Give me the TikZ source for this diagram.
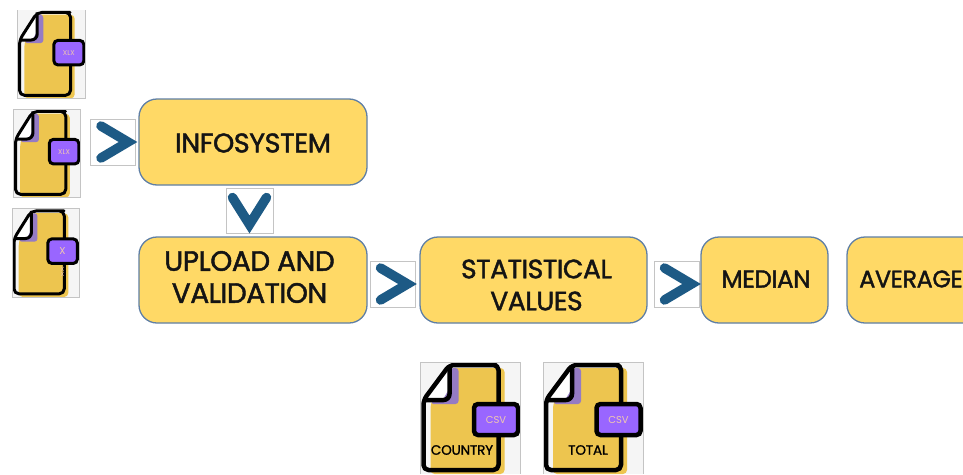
\documentclass[tikz,border=0pt]{standalone}
\usepackage{fontspec}
\setmainfont{Poppins}
\newfontfamily\boxfont[FakeBold=1.6,LetterSpace=-1.5]{Poppins}
\newfontfamily\labelfont[FakeBold=1.2,LetterSpace=-1]{Poppins}
\definecolor{boxfill}{HTML}{FFD966}
\definecolor{boxline}{HTML}{5F7FA5}
\definecolor{chev}{HTML}{1D5A85}
\definecolor{docfill}{HTML}{EDC54F}
\definecolor{docshade}{HTML}{957BC4}
\definecolor{badge}{HTML}{9966FF}
\definecolor{framebg}{HTML}{F5F5F5}
\definecolor{frameline}{HTML}{C4C4C4}
\definecolor{badgetext}{HTML}{F0C8B0}
\tikzset{
  stepbox/.style={draw=boxline,line width=1.3pt,fill=boxfill,rounded corners=18pt,inner sep=0pt,minimum height=86pt},
  steptext/.style={inner sep=0pt,align=center,text=black!92},
  chevframe/.style={draw=frameline,line width=.8pt,fill=white,inner sep=0pt},
  chevline/.style={draw=chev,line width=9.5pt,line cap=round,line join=miter},
  iconframe/.style={draw=frameline,line width=.8pt},
  badgebox/.style={draw=black,fill=badge,rounded corners=4pt,inner sep=0pt},
}
% #1 name, #2 x, #3 y, #4 xscale, #5 yscale, #6 line width, #7 badge font size, #8 badge text, #9 badge centre y
\newcommand{\fileicon}[9]{%
  \begin{scope}[shift={(#2,#3)},xscale=#4,yscale=#5]
    \fill[framebg] (0,0) rectangle (100,112);
    \fill[docfill,rounded corners=4pt] (30,6) -- (84,6) -- (84,112) -- (10,112) -- (10,42) -- cycle;
    \fill[docshade,rounded corners=3pt] (10,42) -- (30,6) -- (38,6) -- (38,42) -- cycle;
    \fill[white] (3,38) -- (29,3) -- (29,26) -- (22,38) -- cycle;
    \draw[black,line width=#6pt,line join=round,rounded corners=5pt] (3,38) -- (29,3) -- (70,3) -- (78,3) -- (78,108) -- (3,108) -- cycle;
    \draw[black,line width=#6pt,line join=round,rounded corners=6pt] (29,3) -- (29,38) -- (3,38);
    \node[badgebox,line width=#6pt,minimum width=#4*44pt,minimum height=#5*31pt,
      font=\fontsize{#7}{#7}\selectfont,text=badgetext] (#1) at (75.5,#9) {#8};
  \end{scope}}
\begin{document}
\begin{tikzpicture}[x=1pt,y=-1pt]
\useasboundingbox (0,0) rectangle (963,474);
\clip (0,0) rectangle (963,474);
\fill[white] (0,0) rectangle (963,474);

\fileicon{iconA}{17.5}{10}{.68}{.79}{3}{7}{XLX}{54}
\draw[iconframe,frameline] (17.5,10) -- (17.5,98.5) -- (85.5,98.5) -- (85.5,10);
\fileicon{iconB}{13.5}{109}{.67}{.79}{3}{7}{XLX}{54}
\draw[iconframe,frameline] (13.5,109) rectangle (80.5,197.5);
\fileicon{iconC}{12}{208.5}{.67}{.79}{3}{10}{X}{54}
\draw[iconframe,frameline] (12,208.5) rectangle (79,297);
\node[font=\fontsize{6}{6}\selectfont,text=badgetext,align=center] (iconCx) at (62.5,272) {X\\[-1pt]X};
\fileicon{iconD}{420.5}{362}{1}{1}{4.5}{10}{CSV}{57.5}
\draw[iconframe,frameline] (420.5,474) -- (420.5,362) -- (520.5,362) -- (520.5,474);
\fileicon{iconE}{543}{362}{1}{1}{4.5}{10}{CSV}{57.5}
\draw[iconframe,frameline] (543,474) -- (543,362) -- (643,362) -- (643,474);
\node[font=\labelfont\fontsize{13.5}{14}\selectfont,text=black] (labD) at (462,450) {COUNTRY};
\node[font=\labelfont\fontsize{13.5}{14}\selectfont,text=black] (labE) at (588,450) {TOTAL};

\node[stepbox,minimum width=228pt] (info) at (253,142) {};
\node[stepbox,minimum width=228pt] (upload) at (253,280) {};
\node[stepbox,minimum width=227pt] (stat) at (533.5,280) {};
\node[stepbox,minimum width=127pt] (median) at (764.5,280) {};
\node[stepbox,minimum width=140pt] (avg) at (917,280) {};
\node[steptext,font=\boxfont\fontsize{27}{33}\selectfont] (infoT) at (253,143) {INFOSYSTEM};
\node[steptext,font=\boxfont\fontsize{28}{32}\selectfont] (uploadT) at (249.5,277) {UPLOAD AND\\VALIDATION};
\node[steptext,font=\boxfont\fontsize{26.5}{32}\selectfont] (statT) at (536.5,285) {STATISTICAL\\VALUES};
\node[steptext,font=\boxfont\fontsize{24.5}{32}\selectfont] (medianT) at (766,279) {MEDIAN};
\node[steptext,font=\boxfont\fontsize{23.8}{32}\selectfont] (avgT) at (911,279) {AVERAGE};

\node[chevframe,minimum width=45pt,minimum height=46pt] (c1) at (113,142) {};
\node[chevframe,minimum width=47pt,minimum height=45pt] (c2) at (249.5,210.5) {};
\node[chevframe,minimum width=45pt,minimum height=46pt] (c3) at (392.5,284) {};
\node[chevframe,minimum width=45pt,minimum height=46pt] (c4) at (676.5,284) {};
\draw[chevline] ([shift={(-12,-16)}]c1.center) -- ([shift={(15,0)}]c1.center) -- ([shift={(-12,16)}]c1.center);
\draw[chevline] ([shift={(-17,-13)}]c2.center) -- ([shift={(0,14)}]c2.center) -- ([shift={(17,-13)}]c2.center);
\draw[chevline] ([shift={(-12,-16)}]c3.center) -- ([shift={(15,0)}]c3.center) -- ([shift={(-12,16)}]c3.center);
\draw[chevline] ([shift={(-12,-16)}]c4.center) -- ([shift={(15,0)}]c4.center) -- ([shift={(-12,16)}]c4.center);
\end{tikzpicture}
\end{document}
